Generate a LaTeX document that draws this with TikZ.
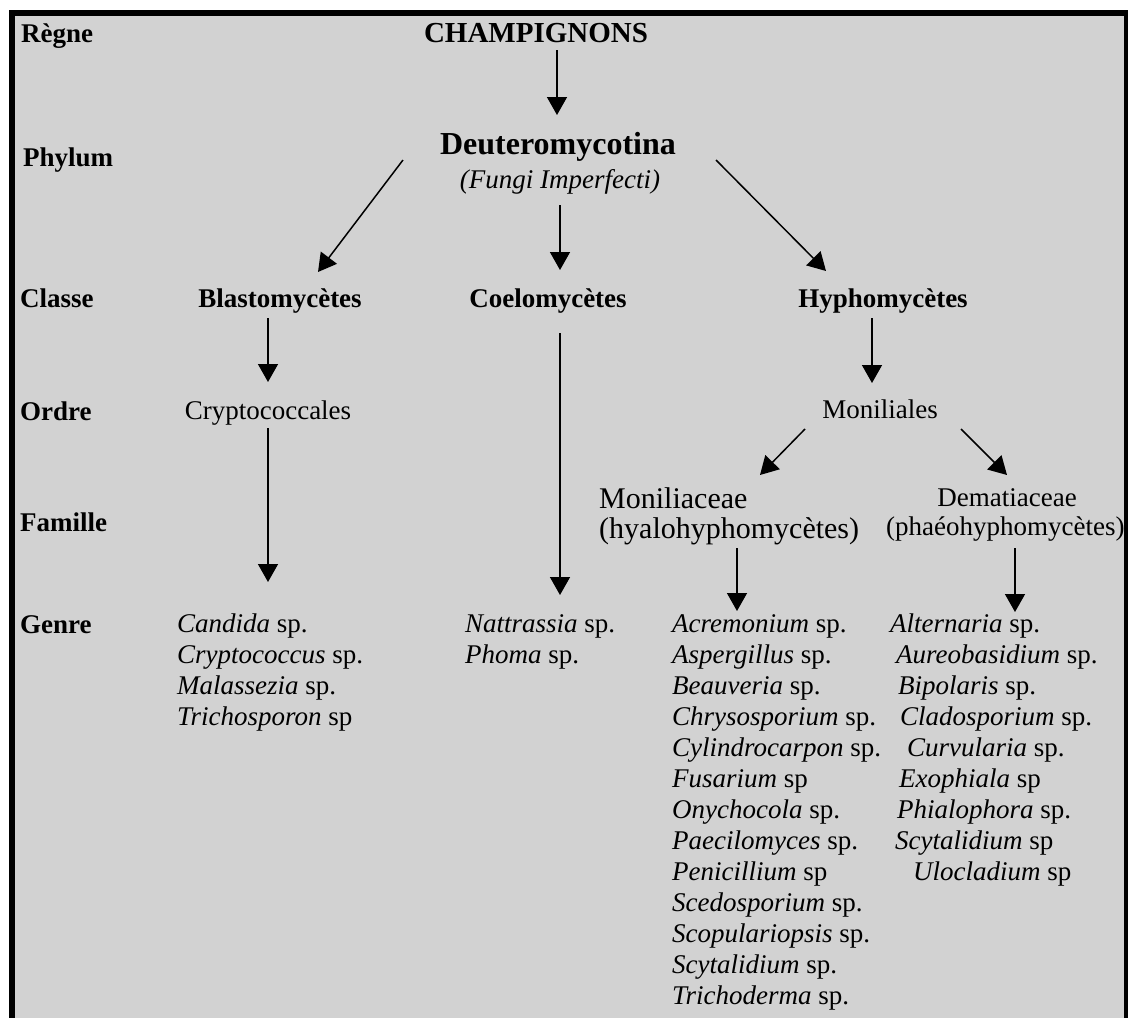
\documentclass[tikz,border=0pt]{standalone}
\usepackage{fontspec}
\setmainfont{Liberation Serif}
\usetikzlibrary{positioning,arrows.meta,calc,matrix}
\definecolor{panelgray}{RGB}{210,210,210}
\newcommand{\sz}[1]{\fontsize{#1}{31}\selectfont}
\newcommand{\genus}[2]{\textit{#1} #2}
\tikzset{
  rank/.style={font=\bfseries\sz{27}, anchor=base west, inner sep=0pt},
  taxon/.style={font=\sz{27}, anchor=base, inner sep=0pt},
  taxbold/.style={taxon, font=\bfseries\sz{27}},
  famline/.style={taxon, anchor=base west},
  genlist/.style={matrix of nodes, anchor=north west, inner sep=0pt, row sep=0pt,
                  nodes={font=\sz{27}, inner sep=0pt, anchor=west,
                         text height=20pt, text depth=11pt}},
  arr/.style={-{Triangle[length=18pt,width=20pt]}, line width=1.5pt}
}
\begin{document}
\begin{tikzpicture}[x=1pt,y=-1pt]
\useasboundingbox (0,0) rectangle (1128,1018);
% frame
\fill[black] (9,10) rectangle (1128,1018);
\fill[panelgray] (15,16) rectangle (1124,1018);

% ranks
\node[rank] (rregne) at (21,42) {Règne};
\node[rank] (rphylum) at (23,166) {Phylum};
\node[rank] (rclasse) at (20,307) {Classe};
\node[rank] (rordre) at (20,420) {Ordre};
\node[rank] (rfamille) at (20,531) {Famille};
\node[rank] (rgenre) at (20,633) {Genre};

% taxa
\node[taxbold, font=\bfseries\sz{29}] (champ) at (536,42) {CHAMPIGNONS};
\node[taxbold, font=\bfseries\sz{32}] (deut) at (558,154) {Deuteromycotina};
\node[taxon, font=\itshape\sz{27}] (fungi) at (560,188) {(Fungi Imperfecti)};
\node[taxbold] (blasto) at (280,307) {Blastomycètes};
\node[taxbold] (coelo) at (548,307) {Coelomycètes};
\node[taxbold] (hypho) at (883,307) {Hyphomycètes};
\node[taxon] (crypto) at (268,419) {Cryptococcales};
\node[taxon] (monil) at (880,418) {Moniliales};
\node[famline, font=\sz{30}] (moniliac) at (599,508) {Moniliaceae};
\node[famline, font=\sz{30}] (hyalo) at (599,538) {(hyalohyphomycètes)};
\node[taxon] (demat) at (1007,506) {Dematiaceae};
\node[famline] (phaeo) at (886,535) {(phaéohyphomycètes)};

% genera
\matrix (gcrypt) [genlist] at (177,612) {
  \genus{Candida}{sp.} \\
  \genus{Cryptococcus}{sp.} \\
  \genus{Malassezia}{sp.} \\
  \genus{Trichosporon}{sp} \\
};
\matrix (gcoelo) [genlist] at (465,612) {
  \genus{Nattrassia}{sp.} \\
  \genus{Phoma}{sp.} \\
};
\matrix (ghyalo) [genlist] at (672,612) {
  \genus{Acremonium}{sp.} \\
  \genus{Aspergillus}{sp.} \\
  \genus{Beauveria}{sp.} \\
  \genus{Chrysosporium}{sp.} \\
  \genus{Cylindrocarpon}{sp.} \\
  \genus{Fusarium}{sp} \\
  \genus{Onychocola}{sp.} \\
  \genus{Paecilomyces}{sp.} \\
  \genus{Penicillium}{sp} \\
  \genus{Scedosporium}{sp.} \\
  \genus{Scopulariopsis}{sp.} \\
  \genus{Scytalidium}{sp.} \\
  \genus{Trichoderma}{sp.} \\
};
\matrix (gphaeo) [genlist] at (890,612) {
  \genus{Alternaria}{sp.} \\
  \hspace*{6pt}\genus{Aureobasidium}{sp.} \\
  \hspace*{8pt}\genus{Bipolaris}{sp.} \\
  \hspace*{10pt}\genus{Cladosporium}{sp.} \\
  \hspace*{17pt}\genus{Curvularia}{sp.} \\
  \hspace*{9pt}\genus{Exophiala}{sp} \\
  \hspace*{7pt}\genus{Phialophora}{sp.} \\
  \hspace*{5pt}\genus{Scytalidium}{sp} \\
  \hspace*{23pt}\genus{Ulocladium}{sp} \\
};

% arrows
\draw[arr] ($(champ.base)+(21,8)$) -- ($(deut.base)+(-1,-39)$);
\draw[arr] ($(deut.base)+(-155,6)$) -- ($(blasto.base)+(38,-35)$);
\draw[arr] ($(fungi.base)+(0,17)$) -- ($(coelo.base)+(12,-37)$);
\draw[arr] ($(deut.base)+(158,6)$) -- ($(hypho.base)+(-57,-36)$);
\draw[arr] ($(blasto.base)+(-12,11)$) -- ($(crypto.base)+(0,-37)$);
\draw[arr] ($(coelo.base)+(12,26)$) -- ($(gcoelo.north west)+(95,-17)$);
\draw[arr] ($(hypho.base)+(-11,11)$) -- ($(monil.base)+(-8,-35)$);
\draw[arr] ($(crypto.base)+(0,9)$) -- ($(gcrypt.north west)+(91,-30)$);
\draw[arr] ($(monil.base)+(-75,11)$) -- ($(moniliac.base west)+(161,-33)$);
\draw[arr] ($(monil.base)+(81,11)$) -- ($(demat.base)+(0,-31)$);
\draw[arr] ($(hyalo.base west)+(138,10)$) -- ($(ghyalo.north west)+(65,-1)$);
\draw[arr] ($(phaeo.base west)+(129,13)$) -- ($(gphaeo.north west)+(125,0)$);
\end{tikzpicture}
\end{document}
